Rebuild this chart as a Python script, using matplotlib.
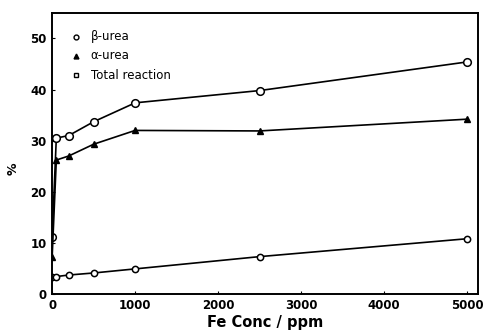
import matplotlib
matplotlib.use("Agg")
import matplotlib.pyplot as plt

# Fe concentration (ppm) and yields (%)
fe_ppm = [0, 50, 200, 500, 1000, 2500, 5000]
beta_urea = [3.3, 3.4, 3.7, 4.1, 4.9, 7.3, 10.8]
alpha_urea = [7.3, 26.2, 27.0, 29.3, 32.0, 31.9, 34.2]
total_reaction = [11.2, 30.5, 31.0, 33.7, 37.4, 39.8, 45.4]

x_ticks = [0, 1000, 2000, 3000, 4000, 5000]
y_ticks = [0, 10, 20, 30, 40, 50]

fig = plt.figure(figsize=(4.83, 3.31), dpi=100)
ax = fig.add_axes([0.108, 0.112, 0.882, 0.849])

line_kw = dict(color="black", lw=1.2, mfc="white", mec="black", mew=1.1)
ax.plot(fe_ppm, total_reaction, marker="o", ms=5.5, **line_kw)
ax.plot(fe_ppm, alpha_urea, color="black", lw=1.2, marker="^", ms=4.5)
ax.plot(fe_ppm, beta_urea, marker="o", ms=4.5, **line_kw)

ax.set_xlim(0, 5135)
ax.set_ylim(0, 55)
ax.set_xticks(x_ticks)
ax.set_yticks(y_ticks)
ax.tick_params(direction="in", length=2, width=0.8, labelsize=8.5, pad=4)
for lab in ax.get_xticklabels() + ax.get_yticklabels():
    lab.set_fontweight("bold")
for s in ax.spines.values():
    s.set_linewidth(1.4)

ax.set_xlabel("Fe Conc / ppm", fontsize=10.5, fontweight="bold", labelpad=2)
fig.text(0.028, 0.49, "%", rotation=90, fontsize=9, fontweight="bold",
         ha="center", va="center")

# legend drawn as marker + label entries in the upper left
legend_items = [("o", "white", "β-urea"), ("^", "black", "α-urea"), ("s", "white", "Total reaction")]
for i, (m, fc, txt) in enumerate(legend_items):
    yy = 0.915 - i * 0.068
    ax.plot([0.055], [yy], transform=ax.transAxes, marker=m, ms=3.5,
            mfc=fc, mec="black", mew=1, color="black", ls="none")
    ax.text(0.09, yy, txt, transform=ax.transAxes, fontsize=8.5,
            ha="left", va="center")

fig.savefig("out.png", dpi=100)
